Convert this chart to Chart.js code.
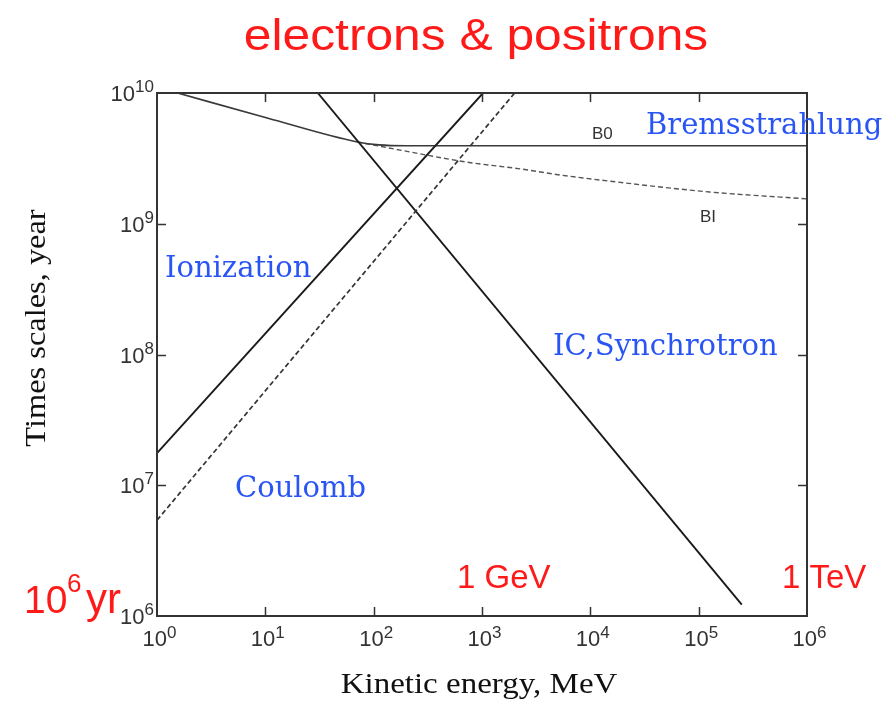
<!DOCTYPE html>
<html>
<head>
<meta charset="utf-8">
<script src="https://cdn.jsdelivr.net/npm/chart.js@4.4.1/dist/chart.umd.min.js"></script>
<style>
  html, body { margin: 0; padding: 0; background: #fff; }
  #wrap { width: 893px; height: 701px; }
</style>
</head>
<body>
<div id="wrap"><canvas id="chart" width="893" height="701"></canvas></div>
<script>
// Decade ticks on both logarithmic axes
const energyTicks = [1, 10, 100, 1e3, 1e4, 1e5, 1e6];
const energyExponents = ['0', '1', '2', '3', '4', '5', '6'];
const timeTicks = [1e6, 1e7, 1e8, 1e9, 1e10];
const timeExponents = ['6', '7', '8', '9', '10'];

// Ionization loss time (solid)
const ionizationE = [1, 1023];
const ionizationT = [1.76e7, 1e10];
// Coulomb loss time (dashed)
const coulombE = [1, 2000];
const coulombT = [5.4e6, 1e10];
// Inverse Compton + synchrotron loss time
const icE = [30.5, 2.5e5];
const icT = [1e10, 1.22e6];
// Bremsstrahlung, case B0 (solid)
const b0E = [1.55, 10.4, 70.8, 112, 200, 1e6];
const b0T = [1e10, 6.44e9, 4.22e9, 4.01e9, 3.95e9, 3.95e9];
// Bremsstrahlung, case BI (dashed)
const biE = [70.8, 175, 724, 2240, 5250, 12300, 126000, 1e6];
const biT = [4.22e9, 3.66e9, 2.96e9, 2.63e9, 2.36e9, 2.16e9, 1.75e9, 1.55e9];

const toPoints = (xs, ys) => xs.map((x, i) => ({ x: x, y: ys[i] }));

function lineSet(xs, ys, opts) {
  return Object.assign({
    data: toPoints(xs, ys),
    showLine: true,
    pointRadius: 0,
    borderColor: '#1a1a1a',
    borderWidth: 1.9,
    fill: false,
    tension: 0
  }, opts);
}

// Draw text with an optional horizontal stretch
function stretchText(ctx, text, x, y, font, color, sx, align) {
  ctx.save();
  ctx.font = font;
  ctx.fillStyle = color;
  ctx.textBaseline = 'alphabetic';
  ctx.textAlign = 'left';
  const w = ctx.measureText(text).width * sx;
  let left = x;
  if (align === 'center') left = x - w / 2;
  if (align === 'right') left = x - w;
  ctx.translate(left, y);
  ctx.scale(sx, 1);
  ctx.fillText(text, 0, 0);
  ctx.restore();
}

const TICK_FONT = '22px "Liberation Sans", Arial, sans-serif';
const EXP_FONT = '17px "Liberation Sans", Arial, sans-serif';
const TICK_COLOR = '#333';

const framePlugin = {
  id: 'frame',
  afterDraw(chart) {
    const ctx = chart.ctx;
    const a = chart.chartArea;
    const xs = chart.scales.x, ys = chart.scales.y;

    // Plot frame
    ctx.save();
    ctx.strokeStyle = '#333';
    ctx.lineWidth = 2;
    ctx.strokeRect(a.left, a.top, a.right - a.left, a.bottom - a.top);

    // Inward decade ticks on all four sides
    const tl = 9;
    ctx.lineWidth = 1.5;
    ctx.beginPath();
    energyTicks.forEach((v, i) => {
      if (i === 0 || i === energyTicks.length - 1) return;
      const px = Math.round(xs.getPixelForValue(v)) + 0.5;
      ctx.moveTo(px, a.bottom); ctx.lineTo(px, a.bottom - tl);
      ctx.moveTo(px, a.top); ctx.lineTo(px, a.top + tl);
    });
    timeTicks.forEach((v, i) => {
      if (i === 0 || i === timeTicks.length - 1) return;
      const py = Math.round(ys.getPixelForValue(v)) + 0.5;
      ctx.moveTo(a.left, py); ctx.lineTo(a.left + tl, py);
      ctx.moveTo(a.right, py); ctx.lineTo(a.right - tl, py);
    });
    ctx.stroke();

    // Tick labels as 10^n
    ctx.fillStyle = TICK_COLOR;
    ctx.textBaseline = 'alphabetic';
    energyTicks.forEach((v, i) => {
      const px = xs.getPixelForValue(v);
      ctx.font = TICK_FONT; ctx.textAlign = 'right';
      ctx.fillText('10', px + 10, a.bottom + 30);
      ctx.font = EXP_FONT; ctx.textAlign = 'left';
      ctx.fillText(energyExponents[i], px + 10, a.bottom + 22);
    });
    timeTicks.forEach((v, i) => {
      const py = ys.getPixelForValue(v);
      ctx.font = EXP_FONT; ctx.textAlign = 'right';
      const ex = a.left - 3;
      ctx.fillText(timeExponents[i], ex, py - 1);
      const ew = ctx.measureText(timeExponents[i]).width;
      ctx.font = TICK_FONT;
      ctx.fillText('10', ex - ew, py + 8);
    });
    ctx.restore();

    // Axis titles
    stretchText(ctx, 'Kinetic energy, MeV', (a.left + a.right) / 2 - 3, 693,
      '30px "Liberation Serif", "Times New Roman", serif', '#111', 1.1, 'center');
    ctx.save();
    ctx.translate(45, 328);
    ctx.rotate(-Math.PI / 2);
    stretchText(ctx, 'Times scales, year', 0, 0,
      '30px "Liberation Serif", "Times New Roman", serif', '#111', 1.08, 'center');
    ctx.restore();

    // Title
    stretchText(ctx, 'electrons & positrons', 476, 50,
      '44px "Liberation Sans", Arial, sans-serif', '#ff1a1a', 1.13, 'center');

    // Process labels
    const blueFont = '29px "DejaVu Serif", Georgia, serif';
    const blue = '#2a55f5';
    stretchText(ctx, 'Bremsstrahlung', 646, 134, blueFont, blue, 1, 'left');
    stretchText(ctx, 'Ionization', 165, 277, blueFont, blue, 1, 'left');
    stretchText(ctx, 'IC,Synchrotron', 553, 355, blueFont, blue, 1, 'left');
    stretchText(ctx, 'Coulomb', 235, 497, blueFont, blue, 1, 'left');

    // Curve tags
    const tagFont = '17px "Liberation Sans", Arial, sans-serif';
    stretchText(ctx, 'B0', 592, 139, tagFont, '#333', 1, 'left');
    stretchText(ctx, 'BI', 700, 222, tagFont, '#333', 1, 'left');

    // Reference energies and time
    const redFont = '33px "Liberation Sans", Arial, sans-serif';
    const red = '#ff1a1a';
    stretchText(ctx, '1 GeV', 457, 588, redFont, red, 1, 'left');
    stretchText(ctx, '1 TeV', 782, 588, redFont, red, 1, 'left');
    stretchText(ctx, '10', 24, 613, '39px "Liberation Sans", Arial, sans-serif', red, 1, 'left');
    stretchText(ctx, '6', 67, 592, '26px "Liberation Sans", Arial, sans-serif', red, 1, 'left');
    stretchText(ctx, 'yr', 86, 613, '42px "Liberation Sans", Arial, sans-serif', red, 1, 'left');
  }
};

new Chart(document.getElementById('chart'), {
  type: 'scatter',
  data: {
    datasets: [
      lineSet(ionizationE, ionizationT, {}),
      lineSet(coulombE, coulombT, { borderDash: [5, 3], borderColor: '#333', borderWidth: 1.7 }),
      lineSet(icE, icT, {}),
      lineSet(b0E, b0T, { cubicInterpolationMode: 'monotone', borderWidth: 1.6, borderColor: '#3a3a3a' }),
      lineSet(biE, biT, { cubicInterpolationMode: 'monotone', borderDash: [5, 3], borderWidth: 1.4, borderColor: '#555' })
    ]
  },
  options: {
    responsive: false,
    animation: false,
    layout: { padding: { left: 157, right: 86, top: 93, bottom: 85 } },
    plugins: { legend: { display: false }, tooltip: { enabled: false }, title: { display: false } },
    scales: {
      x: { type: 'logarithmic', min: 1, max: 1e6, display: false },
      y: { type: 'logarithmic', min: 1e6, max: 1e10, display: false }
    }
  },
  plugins: [framePlugin]
});
</script>
</body>
</html>
